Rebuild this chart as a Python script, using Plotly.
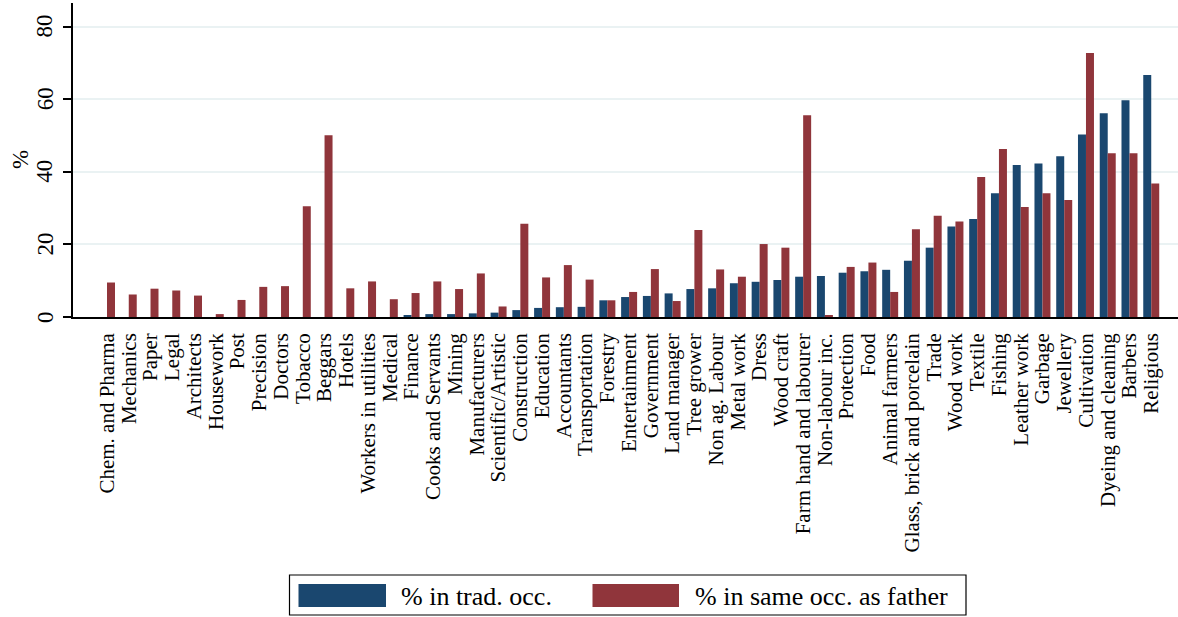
import plotly.graph_objects as go

categories = [
    "Chem. and Pharma", "Mechanics", "Paper", "Legal", "Architects", "Housework",
    "Post", "Precision", "Doctors", "Tobacco", "Beggars", "Hotels",
    "Workers in utilities", "Medical", "Finance", "Cooks and Servants", "Mining",
    "Manufacturers", "Scientific/Artistic", "Construction", "Education",
    "Accountants", "Transportation", "Forestry", "Entertainment", "Government",
    "Land manager", "Tree grower", "Non ag. Labour", "Metal work", "Dress",
    "Wood craft", "Farm hand and labourer", "Non-labour inc.", "Protection",
    "Food", "Animal farmers", "Glass, brick and porcelain", "Trade", "Wood work",
    "Textile", "Fishing", "Leather work", "Garbage", "Jewellery", "Cultivation",
    "Dyeing and cleaning", "Barbers", "Religious",
]

pct_trad = [
    0, 0, 0, 0, 0, 0,
    0, 0, 0, 0, 0, 0,
    0, 0, 0.5, 0.8, 0.8,
    1.0, 1.2, 1.9, 2.5,
    2.7, 2.8, 4.6, 5.5, 5.8,
    6.5, 7.7, 7.9, 9.3, 9.7,
    10.2, 11.1, 11.3, 12.2,
    12.6, 13.0, 15.5, 19.1, 24.9,
    27.0, 34.1, 41.9, 42.3, 44.3, 50.3,
    56.1, 59.7, 66.7,
]

pct_father = [
    9.5, 6.2, 7.8, 7.3, 5.9, 0.8,
    4.7, 8.3, 8.5, 30.5, 50.1, 7.9,
    9.8, 4.9, 6.6, 9.8, 7.7,
    12.0, 2.9, 25.7, 10.9,
    14.3, 10.3, 4.6, 6.9, 13.2,
    4.4, 24.0, 13.1, 11.1, 20.1,
    19.1, 55.6, 0.5, 13.8,
    15.0, 6.9, 24.2, 27.9, 26.3,
    38.6, 46.3, 30.3, 34.1, 32.2, 72.7,
    45.1, 45.1, 36.8,
]

series_names = ["% in trad. occ.", "% in same occ. as father"]
series_colors = ["#1a476f", "#90353b"]
y_ticks = [0, 20, 40, 60, 80]

FONT = "Liberation Serif"
W, H = 1178, 617
ML, MR, MT, MB = 73, 0, 3, 300
PW = W - ML - MR
PH = H - MT - MB


def px_x(px):
    return (px - ML) / PW


def px_y(py):
    return (H - MB - py) / PH


fig = go.Figure()
fig.add_trace(go.Bar(x=list(range(len(categories))), y=pct_trad, name=series_names[0],
                     marker=dict(color=series_colors[0], line=dict(width=0)),
                     showlegend=False))
fig.add_trace(go.Bar(x=list(range(len(categories))), y=pct_father, name=series_names[1],
                     marker=dict(color=series_colors[1], line=dict(width=0)),
                     showlegend=False))

fig.update_layout(
    width=W, height=H,
    margin=dict(l=ML, r=MR, t=MT, b=MB, pad=0),
    paper_bgcolor="white", plot_bgcolor="white",
    barmode="group", bargap=0.265, bargroupgap=0,
    font=dict(family=FONT, color="black"),
    showlegend=False,
)

fig.update_xaxes(
    range=[-1.5625, 49.23],
    tickmode="array",
    tickvals=list(range(len(categories))),
    ticktext=categories,
    tickangle=-90,
    tickfont=dict(size=21, family=FONT, color="black"),
    ticks="", showgrid=False, zeroline=False,
    showline=True, linecolor="black", linewidth=1.5,
    ticklabelstandoff=6,
)

fig.update_yaxes(
    range=[0, 86.5],
    tickmode="array", tickvals=y_ticks,
    showticklabels=False,
    ticks="outside", ticklen=8, tickwidth=1.5, tickcolor="black",
    showgrid=True, gridcolor="#eaf2f3", gridwidth=1.5,
    zeroline=False,
    showline=True, linecolor="black", linewidth=1.5,
)

# rotated y tick labels (Stata style)
for v in y_ticks:
    fig.add_annotation(xref="paper", yref="y", x=px_x(45), y=v, text=str(v),
                       textangle=-90, showarrow=False, xanchor="center", yanchor="middle",
                       font=dict(size=23, family=FONT, color="black"))
# y axis title
fig.add_annotation(xref="paper", yref="paper", x=px_x(20), y=0.5, text="%",
                   textangle=-90, showarrow=False, xanchor="center", yanchor="middle",
                   font=dict(size=23, family=FONT, color="black"))

# legend box drawn manually (Stata style)
fig.add_shape(type="rect", xref="paper", yref="paper",
              x0=px_x(289.5), x1=px_x(966), y0=px_y(615), y1=px_y(575),
              line=dict(color="black", width=1.2), fillcolor="white", layer="above")
swatches = [(298.5, 386), (592.5, 679)]
text_x = [399, 693]
for (sx0, sx1), tx, nm, col in zip(swatches, text_x, series_names, series_colors):
    fig.add_shape(type="rect", xref="paper", yref="paper",
                  x0=px_x(sx0), x1=px_x(sx1), y0=px_y(607), y1=px_y(584),
                  line=dict(width=0), fillcolor=col, layer="above")
    fig.add_annotation(xref="paper", yref="paper", x=px_x(tx), y=px_y(596),
                       text=nm, showarrow=False, xanchor="left", yanchor="middle",
                       font=dict(size=26, family=FONT, color="black"))

fig.write_html("out.html")
